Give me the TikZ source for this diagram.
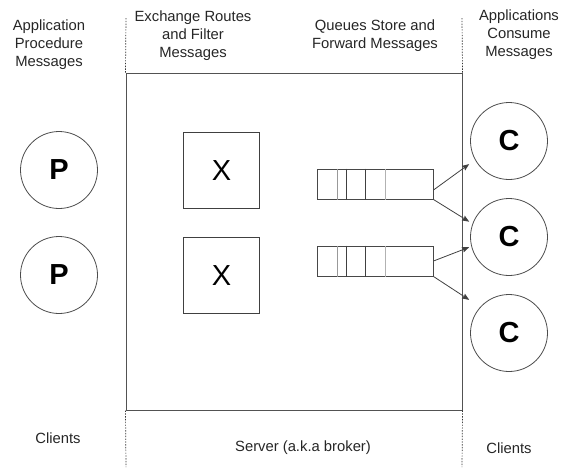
\documentclass[tikz,border=0pt]{standalone}
\usepackage{fontspec}
\setmainfont{Liberation Sans}
\usetikzlibrary{arrows.meta}
\begin{document}
\begin{tikzpicture}[x=1pt,y=-1pt,
  lbl/.style={align=center,inner sep=0pt,text=black!85,
    font=\fontsize{14.8}{18}\selectfont},
  client/.style={circle,draw=black!70,line width=0.8pt,minimum size=77pt,
    inner sep=0pt,font=\fontsize{29}{29}\selectfont\bfseries},
  exch/.style={draw=black!75,line width=1.5pt,minimum size=76pt,
    inner sep=0pt,font=\fontsize{29}{29}\selectfont},
  qbox/.style={draw=black!72,line width=1pt,minimum width=116pt,
    minimum height=30pt,inner sep=0pt},
  qsep/.style={line width=1pt},
  guide/.style={draw=black!80,line width=0.7pt,dash pattern=on 1.4pt off 1.4pt},
  flow/.style={draw=black!75,line width=0.8pt,
    -{Stealth[length=7pt,width=5.5pt,inset=1pt]}}]
\useasboundingbox (0,0) rectangle (567,467);

% server (broker) area
\node[draw=black!68,line width=1pt,minimum width=336pt,minimum height=337pt,
  inner sep=0pt] (srv) at (294,241.5) {};

% dotted separators between clients and server
\coordinate (gtl) at (126,18);
\coordinate (gbl) at (126,467);
\coordinate (gtr) at (462,18);
\coordinate (gbr) at (462,467);
\draw[guide] (gtl) -- (srv.north west);
\draw[guide] (srv.south west) -- (gbl);
\draw[guide] (gtr) -- (srv.north east);
\draw[guide] (srv.south east) -- (gbr);

% column headings
\node[lbl] (hp) at (49,45) {Application\\Procedure\\Messages};
\node[lbl] (hx) at (193,35.5) {Exchange Routes\\and Filter\\Messages};
\node[lbl] (hq) at (375,36) {Queues Store and\\Forward Messages};
\node[lbl] (hc) at (519,35) {Applications\\Consume\\Messages};

% footers
\node[lbl] (fl) at (58,438) {Clients};
\node[lbl] (fs) at (303,448) {Server (a.k.a broker)};
\node[lbl] (fr) at (509,448) {Clients};

% producers
\node[client] (p1) at (59,170) {P};
\node[client] (p2) at (59,275) {P};

% exchanges
\node[exch] (x1) at (221.5,170.5) {X};
\node[exch] (x2) at (221.5,275.5) {X};

% queues with their slots
\node[qbox] (q1) at (375,184) {};
\node[qbox] (q2) at (375,261) {};
\foreach \q in {q1,q2}{
  \draw[qsep,draw=black!40] ([xshift=21pt]\q.north west) -- ([xshift=21pt]\q.south west);
  \draw[qsep,draw=black!75] ([xshift=30pt]\q.north west) -- ([xshift=30pt]\q.south west);
  \draw[qsep,draw=black!75] ([xshift=49pt]\q.north west) -- ([xshift=49pt]\q.south west);
  \draw[qsep,draw=black!30] ([xshift=69pt]\q.north west) -- ([xshift=69pt]\q.south west);
}

% consumers
\node[client] (c1) at (509,141) {C};
\node[client] (c2) at (509,237) {C};
\node[client] (c3) at (509,333) {C};

% delivery from queues to consumers
\draw[flow,shorten >=7.2pt] ([yshift=-6pt]q1.east) -- (c1.209.4);
\draw[flow,shorten >=3.8pt] (q1.south east) -- (c2.160.3);
\draw[flow,shorten >=2.3pt] (q2.east) -- (c2.194.4);
\draw[flow,shorten >=13pt] (q2.south east) -- (c3.138);
\end{tikzpicture}
\end{document}
